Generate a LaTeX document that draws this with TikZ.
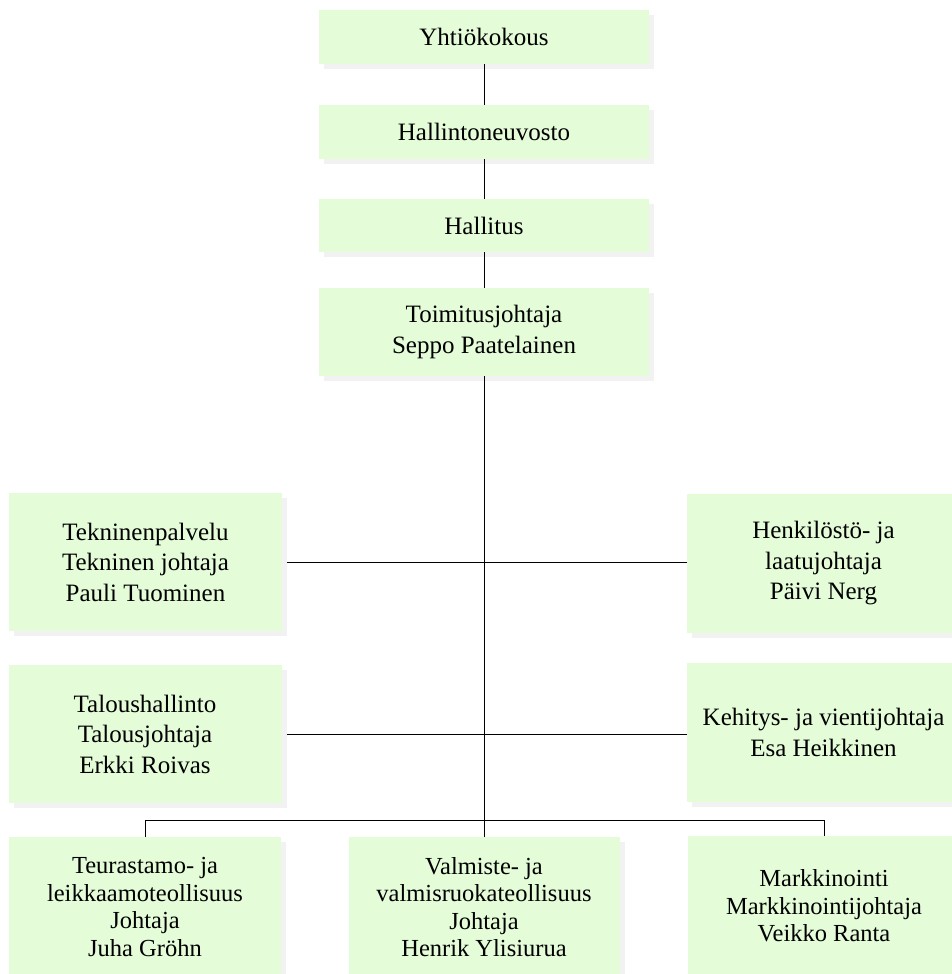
\documentclass[tikz,border=0pt]{standalone}
\usepackage{fontspec}
\setmainfont{Liberation Serif}
\usetikzlibrary{shadows}
\definecolor{boxfill}{RGB}{228,252,216}
\definecolor{shadowgray}{RGB}{242,242,242}
\tikzset{
  orgbox/.style={rectangle, fill=boxfill, inner sep=0pt, align=center,
    font=\fontsize{25}{30.5}\selectfont,
    drop shadow={shadow xshift=5pt, shadow yshift=-5pt, fill=shadowgray, opacity=1}},
  lowbox/.style={orgbox, font=\fontsize{24.5}{27.5}\selectfont},
  link/.style={draw=black, line width=1pt}
}
\begin{document}
\begin{tikzpicture}[x=1pt,y=1pt]
\useasboundingbox (0,0) rectangle (952,-974);
\clip (0,0) rectangle (952,-974);
% top column
\node[orgbox, minimum width=330, minimum height=54] (yk) at (484,-37) {Yhtiökokous};
\node[orgbox, minimum width=330, minimum height=54] (hn) at (484,-132) {Hallintoneuvosto};
\node[orgbox, minimum width=330, minimum height=53] (ht) at (484,-225.5) {Hallitus};
\node[orgbox, minimum width=330, minimum height=88] (tj) at (484,-332) {Toimitusjohtaja\\Seppo Paatelainen};
% side boxes
\node[orgbox, minimum width=273, minimum height=138] (tek) at (145.5,-562) {Tekninenpalvelu\\Tekninen johtaja\\Pauli Tuominen};
\node[orgbox, minimum width=273, minimum height=138] (tal) at (145,-734) {Taloushallinto\\Talousjohtaja\\Erkki Roivas};
\node[orgbox, minimum width=273, minimum height=139] (hen) at (823.5,-563.5) {Henkilöstö- ja\\laatujohtaja\\Päivi Nerg};
\node[orgbox, minimum width=273, minimum height=139] (keh) at (823.5,-732.5) {Kehitys- ja vientijohtaja\\Esa Heikkinen};
% bottom boxes
\node[lowbox, minimum width=272, minimum height=140] (teu) at (145,-907) {Teurastamo- ja\\leikkaamoteollisuus\\Johtaja\\Juha Gröhn};
\node[lowbox, minimum width=271, minimum height=140] (val) at (484,-907) {Valmiste- ja\\valmisruokateollisuus\\Johtaja\\Henrik Ylisiurua};
\node[lowbox, minimum width=272, minimum height=140] (mar) at (824,-906) {Markkinointi\\Markkinointijohtaja\\Veikko Ranta};
% connectors
\coordinate (bus) at (484,-820);
\draw[link] (yk.south) -- (hn.north);
\draw[link] (hn.south) -- (ht.north);
\draw[link] (ht.south) -- (tj.north);
\draw[link] (tj.south) -- (val.north);
\draw[link] ([xshift=5pt]tek.east) -- (tek.east -| hen.west);
\draw[link] ([xshift=5pt]tal.east) -- (tal.east -| keh.west);
\draw[link] (teu.north) |- (bus) -| (mar.north);
\end{tikzpicture}
\end{document}
